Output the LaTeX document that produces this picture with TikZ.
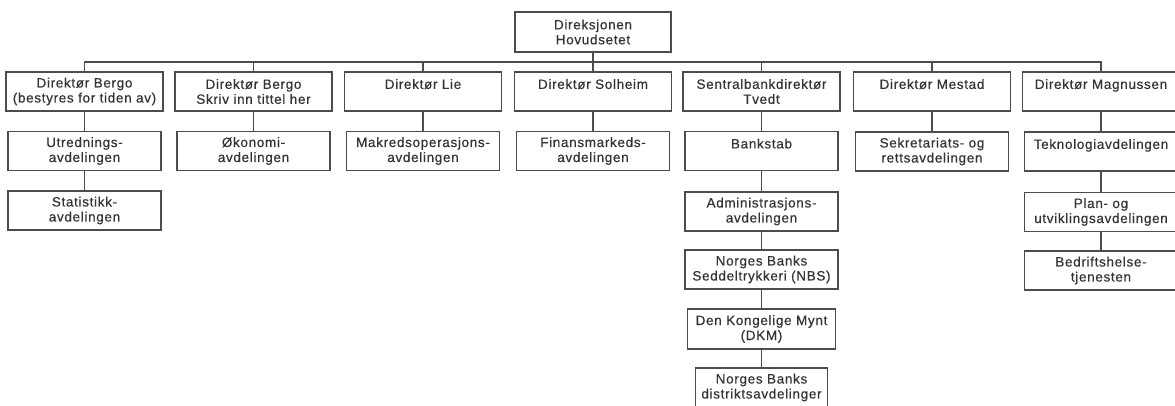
\documentclass[tikz,border=0pt]{standalone}
\usepackage{fontspec}
\setmainfont{Liberation Sans}[LetterSpace=5, FakeBold=0.4]
\begin{document}
\begin{tikzpicture}[
    x=1pt, y=-1pt,
    font=\fontsize{13.5}{15}\selectfont,
    unit/.style={draw=black!70, line width=1.1pt, fill=white, text=black!80, minimum width=157pt, minimum height=39pt, align=center, inner sep=1pt},
    dept/.style={unit, minimum width=153pt},
    link/.style={draw=black!70, line width=1.3pt}
]
\useasboundingbox (0,0) rectangle (1175,405);

% Direksjonen
\node[unit, minimum width=156pt, minimum height=40pt] (top) at (593,32) {Direksjonen\\Hovudsetet};
\coordinate (bar) at (0,62);

% Direktorer
\node[unit] (bergoA) at (84.5,91.5) {Direktør Bergo\\(bestyres for tiden av)};
\node[unit] (bergoB) at (253.5,91.5) {Direktør Bergo\\Skriv inn tittel her};
\node[unit] (lie) at (423,91.5) {Direktør Lie\\~};
\node[unit] (solheim) at (593,91.5) {Direktør Solheim\\~};
\node[unit] (tvedt) at (761.5,91.5) {Sentralbankdirektør\\Tvedt};
\node[unit] (mestad) at (932,91.5) {Direktør Mestad\\~};
\node[unit] (magnussen) at (1101,91.5) {Direktør Magnussen\\~};

% Bergo
\node[dept] (utredning) at (84.5,151) {Utrednings-\\avdelingen};
\node[dept] (statistikk) at (84.5,210.5) {Statistikk-\\avdelingen};
\node[dept] (okonomi) at (253.5,151) {Økonomi-\\avdelingen};

% Lie og Solheim
\node[dept] (makred) at (423,151) {Makredsoperasjons-\\avdelingen};
\node[dept] (finans) at (593,151) {Finansmarkeds-\\avdelingen};

% Tvedt
\node[dept] (bankstab) at (761.5,151) {Bankstab\\~};
\node[dept] (admin) at (761.5,211.5) {Administrasjons-\\avdelingen};
\node[dept] (nbs) at (761.5,269.5) {Norges Banks\\Seddeltrykkeri (NBS)};
\node[dept, minimum width=148pt, minimum height=40pt] (dkm) at (761.5,329) {Den Kongelige Mynt\\(DKM)};
\node[dept, minimum width=132pt] (distrikt) at (761.5,387.5) {Norges Banks\\distriktsavdelinger};

% Mestad
\node[dept] (sekretariat) at (932,151.5) {Sekretariats- og\\rettsavdelingen};

% Magnussen
\node[dept] (teknologi) at (1101,151.5) {Teknologiavdelingen\\~};
\node[dept] (plan) at (1101,212) {Plan- og\\utviklingsavdelingen};
\node[dept] (bedrift) at (1101,270.5) {Bedriftshelse-\\tjenesten};

% linjer
\draw[link] (top.south) -- (top.south |- bar);
\draw[link] (bergoA.north) -- (bergoA.north |- bar) -| (magnussen.north);
\foreach \n in {bergoB, lie, solheim, tvedt, mestad}
    \draw[link] (\n.north) -- (\n.north |- bar);
\draw[link] (bergoA) -- (utredning) -- (statistikk);
\draw[link] (bergoB) -- (okonomi);
\draw[link] (lie) -- (makred);
\draw[link] (solheim) -- (finans);
\draw[link] (tvedt) -- (bankstab) -- (admin) -- (nbs) -- (dkm) -- (distrikt);
\draw[link] (mestad) -- (sekretariat);
\draw[link] (magnussen) -- (teknologi) -- (plan) -- (bedrift);

\end{tikzpicture}
\end{document}
